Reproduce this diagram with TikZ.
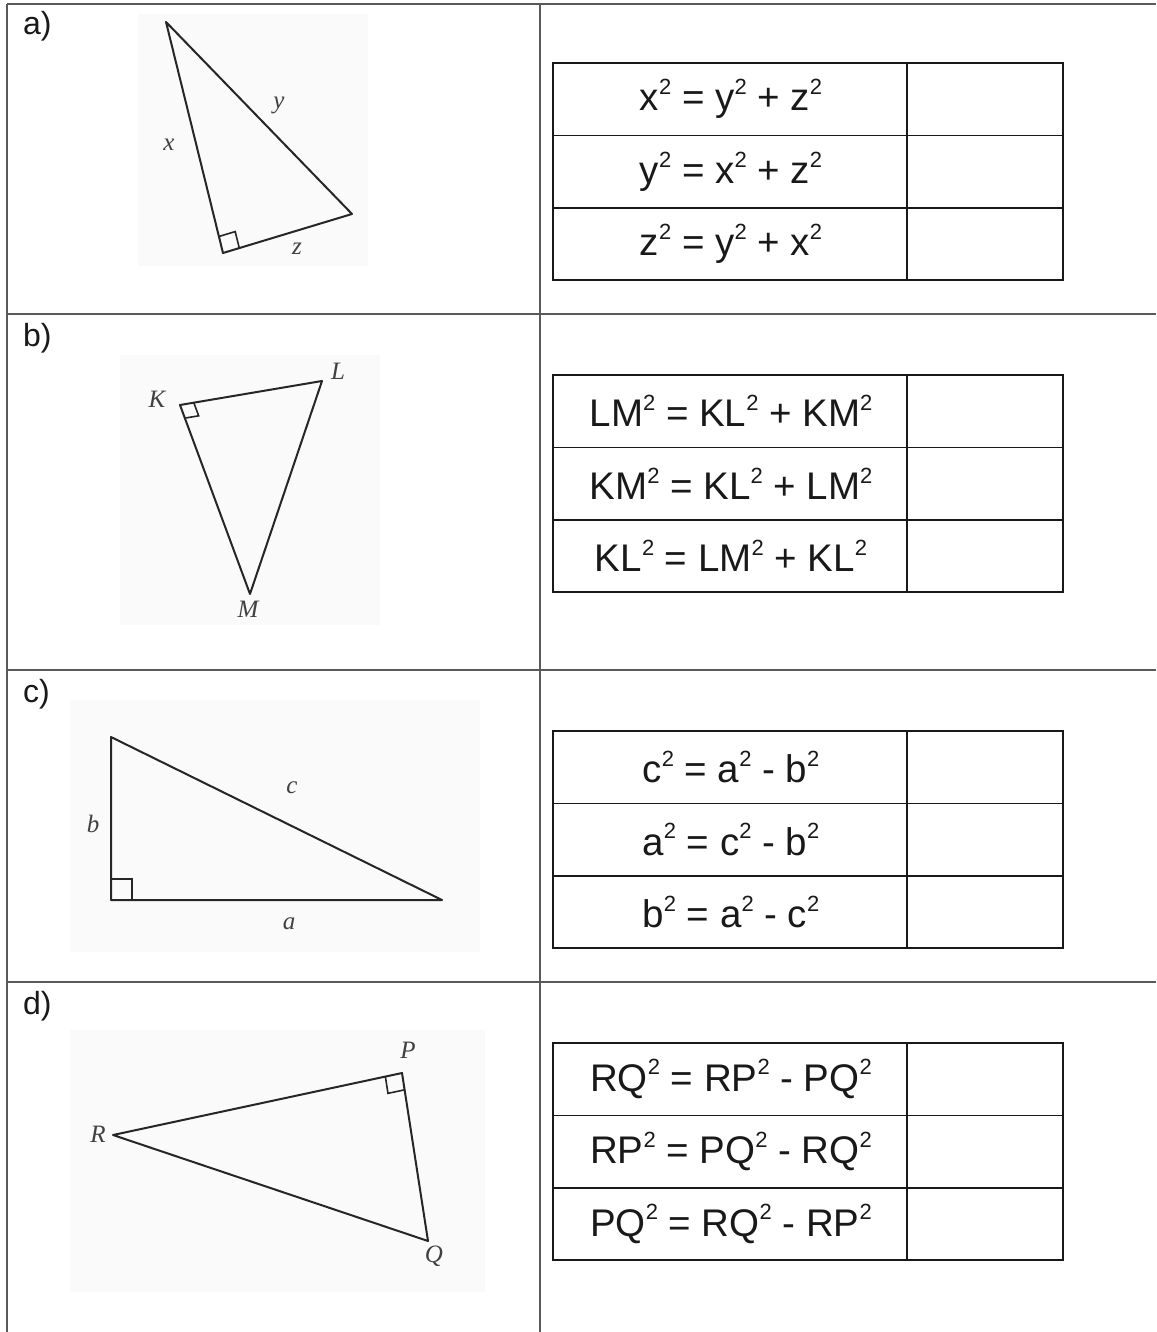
\documentclass[tikz,border=0pt]{standalone}
\usepackage{fontspec}
\setmainfont{Liberation Sans}
\newfontfamily\trifont{Liberation Serif}
\usetikzlibrary{calc}
\newcommand\sqr{\raisebox{0.42em}{\fontsize{22}{22}\selectfont 2}}
\tikzset{
  outer/.style={draw=black!65, line width=2pt},
  inner/.style={draw=black!90, line width=1.7pt},
  tri/.style={draw=black!85, line width=2pt, line join=round},
  ramark/.style={draw=black!85, line width=1.6pt},
  bgpanel/.style={fill=black!2, draw=none},
  eq/.style={font=\fontsize{38.5}{38.5}\selectfont, inner sep=0pt, anchor=center, text=black!90},
  rowlab/.style={font=\fontsize{32}{32}\selectfont, anchor=north west, inner sep=0pt, text=black!90},
  vlab/.style={font=\trifont\itshape\fontsize{25}{25}\selectfont, inner sep=0pt, text=black!75},
}
\begin{document}
\begin{tikzpicture}[x=1pt,y=-1pt]
\useasboundingbox (0,0) rectangle (1156,1332);
\fill[white] (0,0) rectangle (1156,1332);

% faint backgrounds behind the figures
\path[bgpanel] (138,14) rectangle (368,266);
\path[bgpanel] (120,355) rectangle (380,625);
\path[bgpanel] (70,700) rectangle (480,952);
\path[bgpanel] (70,1030) rectangle (485,1292);

% outer grid
\coordinate (OTL) at (7,4);
\coordinate (OTR) at (1156,4);
\coordinate (OBL) at (7,1332);
\coordinate (CT) at (540,4);
\coordinate (CB) at (540,1332);
\draw[outer] (OTL) -- (OTR);
\draw[outer] (OTL) -- (OBL);
\draw[outer] (CT) -- (CB);
\foreach \yy in {314,670,982}{
  \draw[outer] (7,\yy) -- (1156,\yy);
}

% row labels
\node[rowlab] (la) at (23,11) {a)};
\node[rowlab] (lb) at (23,323) {b)};
\node[rowlab] (lc) at (23,679) {c)};
\node[rowlab] (ld) at (23,991) {d)};

% ---------- answer tables ----------
\newcommand\tbl[4]{%
  \draw[inner] (553,#1) rectangle (1063,#1+217);
  \draw[inner] (907,#1) -- (907,#1+217);
  \draw[inner] (553,#1+72.5) -- (1063,#1+72.5);
  \draw[inner] (553,#1+145) -- (1063,#1+145);
  \node[eq] at (731,#1+36) {#2};
  \node[eq] at (731,#1+108.5) {#3};
  \node[eq] at (731,#1+181) {#4};
}
\tbl{63}{x\sqr\ = y\sqr\ + z\sqr}{y\sqr\ = x\sqr\ + z\sqr}{z\sqr\ = y\sqr\ + x\sqr}
\tbl{375}{LM\sqr\ = KL\sqr\ + KM\sqr}{KM\sqr\ = KL\sqr\ + LM\sqr}{KL\sqr\ = LM\sqr\ + KL\sqr}
\tbl{731}{c\sqr\ = a\sqr\ - b\sqr}{a\sqr\ = c\sqr\ - b\sqr}{b\sqr\ = a\sqr\ - c\sqr}
\tbl{1043}{RQ\sqr\ = RP\sqr\ - PQ\sqr}{RP\sqr\ = PQ\sqr\ - RQ\sqr}{PQ\sqr\ = RQ\sqr\ - RP\sqr}

% ---------- triangle a ----------
\coordinate (A1) at (166,22);
\coordinate (A2) at (223,253);
\coordinate (A3) at (352,214);
\draw[tri] (A1) -- (A2) -- (A3) -- cycle;
\draw[ramark] ($(A2)!17pt!(A1)$) -- ($(A2)!17pt!(A1)+(A2)!17pt!(A3)-(A2)$) -- ($(A2)!17pt!(A3)$);
\node[vlab] (lx) at (169,145) {x};
\node[vlab] (ly) at (279,105) {y};
\node[vlab] (lz) at (297,249) {z};

% ---------- triangle b ----------
\coordinate (K) at (180,405);
\coordinate (L) at (322,381);
\coordinate (M) at (250,594);
\draw[tri] (K) -- (L) -- (M) -- cycle;
\draw[ramark] ($(K)!14pt!(L)$) -- ($(K)!14pt!(L)+(K)!14pt!(M)-(K)$) -- ($(K)!14pt!(M)$);
\node[vlab] (lK) at (157,399) {K};
\node[vlab] (lL) at (338,371) {L};
\node[vlab] (lM) at (248,609) {M};

% ---------- triangle c ----------
\coordinate (C1) at (111,737);
\coordinate (C2) at (111,900);
\coordinate (C3) at (442,900);
\draw[tri] (C1) -- (C2) -- (C3) -- cycle;
\draw[ramark] ($(C2)!21pt!(C1)$) -- ($(C2)!21pt!(C1)+(C2)!21pt!(C3)-(C2)$) -- ($(C2)!21pt!(C3)$);
\node[vlab] (lb2) at (93,824) {b};
\node[vlab] (lc2) at (292,788) {c};
\node[vlab] (la2) at (289,924) {a};

% ---------- triangle d ----------
\coordinate (R) at (113,1135);
\coordinate (P) at (402,1073);
\coordinate (Q) at (428,1241);
\draw[tri] (R) -- (P) -- (Q) -- cycle;
\draw[ramark] ($(P)!17pt!(R)$) -- ($(P)!17pt!(R)+(P)!17pt!(Q)-(P)$) -- ($(P)!17pt!(Q)$);
\node[vlab] (lR) at (98,1134) {R};
\node[vlab] (lP) at (408,1050) {P};
\node[vlab] (lQ) at (434,1256) {Q};
\end{tikzpicture}
\end{document}
